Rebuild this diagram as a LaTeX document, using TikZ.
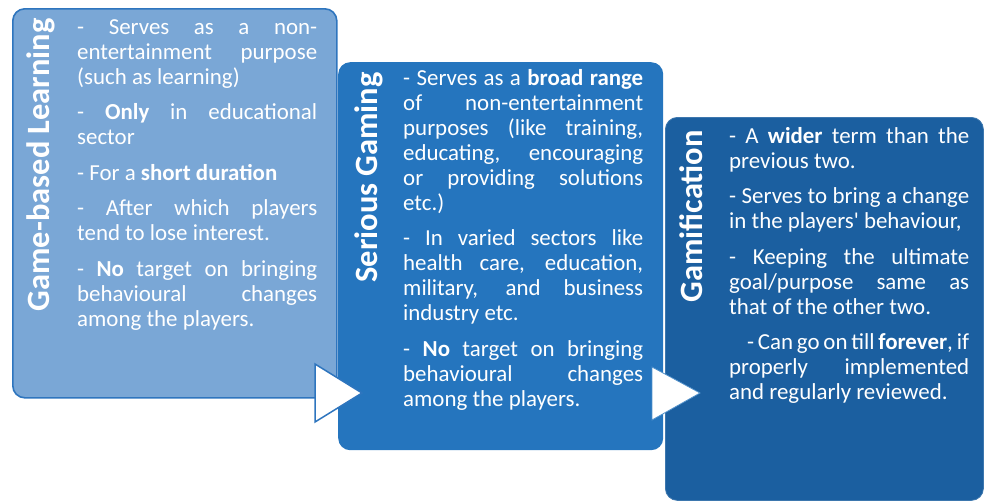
\documentclass[tikz,border=0pt]{standalone}
\usepackage{fontspec}
\setmainfont{Carlito}
\definecolor{pA}{RGB}{122,167,214}
\definecolor{pAb}{RGB}{46,117,190}
\definecolor{pB}{RGB}{37,117,190}
\definecolor{pC}{RGB}{27,95,160}
\newcommand{\bodysetup}{\setlength{\parskip}{10.5pt}\setlength{\parindent}{0pt}\tolerance=10000 \hbadness=10000 \hfuzz=5pt \hyphenpenalty=10000 \exhyphenpenalty=10000 \rule{0pt}{20pt}}
\begin{document}
\begin{tikzpicture}[x=1pt,y=-1pt,
  panel/.style={rectangle, rounded corners=12pt, anchor=north west, inner sep=0pt},
  titletext/.style={rotate=90, anchor=base east, inner sep=0pt, text=white, font=\fontsize{32.5pt}{36pt}\selectfont\bfseries},
  body/.style={anchor=north west, inner sep=0pt, text width=240pt, align=justify, text=white, font=\fontsize{22.9pt}{25pt}\selectfont},
  arrowtri/.style={fill=white, line join=miter}]
\useasboundingbox (0,0) rectangle (985,501);
% panel 1
\node[panel, fill=pA, draw=pAb, line width=1.6pt, minimum width=324pt, minimum height=389pt] (p1) at (12,8) {};
\node[titletext] (h1) at (49,18) {Game-based Learning};
\node[body] (t1) at (77,14) {\bodysetup- Serves as a non-\linebreak entertainment purpose\linebreak (such as learning)\par
- \textbf{Only} in educational\linebreak sector\par
- For a \textbf{short duration}\par
- After which players\linebreak tend to lose interest.\par
- \textbf{No} target on bringing\linebreak behavioural changes\linebreak among the players.};
% panel 2
\node[panel, fill=pB, minimum width=325pt, minimum height=388pt] (p2) at (338,62) {};
\node[titletext] (h2) at (377,72) {Serious Gaming};
\node[body] (t2) at (403,65) {\bodysetup- Serves as a \textbf{broad range}\linebreak of non-entertainment\linebreak purposes (like training,\linebreak educating, encouraging\linebreak or providing solutions\linebreak etc.)\par
- In varied sectors like\linebreak health care, education,\linebreak military, and business\linebreak industry etc.\par
- \textbf{No} target on bringing\linebreak behavioural changes\linebreak among the players.};
\draw[arrowtri, draw=pAb, line width=1.5pt] (315,364) -- (362,393) -- (315,422) -- cycle;
% panel 3
\node[panel, fill=pC, draw=pC!85!white, line width=0.8pt, minimum width=318pt, minimum height=383pt] (p3) at (665,117) {};
\node[titletext] (h3) at (702,130) {Gamification};
\node[body] (t3) at (729,123) {\bodysetup- A \textbf{wider} term than the\linebreak previous two.\par
- Serves to bring a change\linebreak in the players\textquotesingle{} behaviour,\par
- Keeping the ultimate\linebreak goal/purpose same as\linebreak that of the other two.\par
\hspace*{18pt}- Can go on till \textbf{forever}, if\linebreak properly implemented\linebreak and regularly reviewed.};
\draw[arrowtri, draw=pB!80!white, line width=0.8pt] (652,367) -- (700,393) -- (652,420) -- cycle;
\end{tikzpicture}
\end{document}
